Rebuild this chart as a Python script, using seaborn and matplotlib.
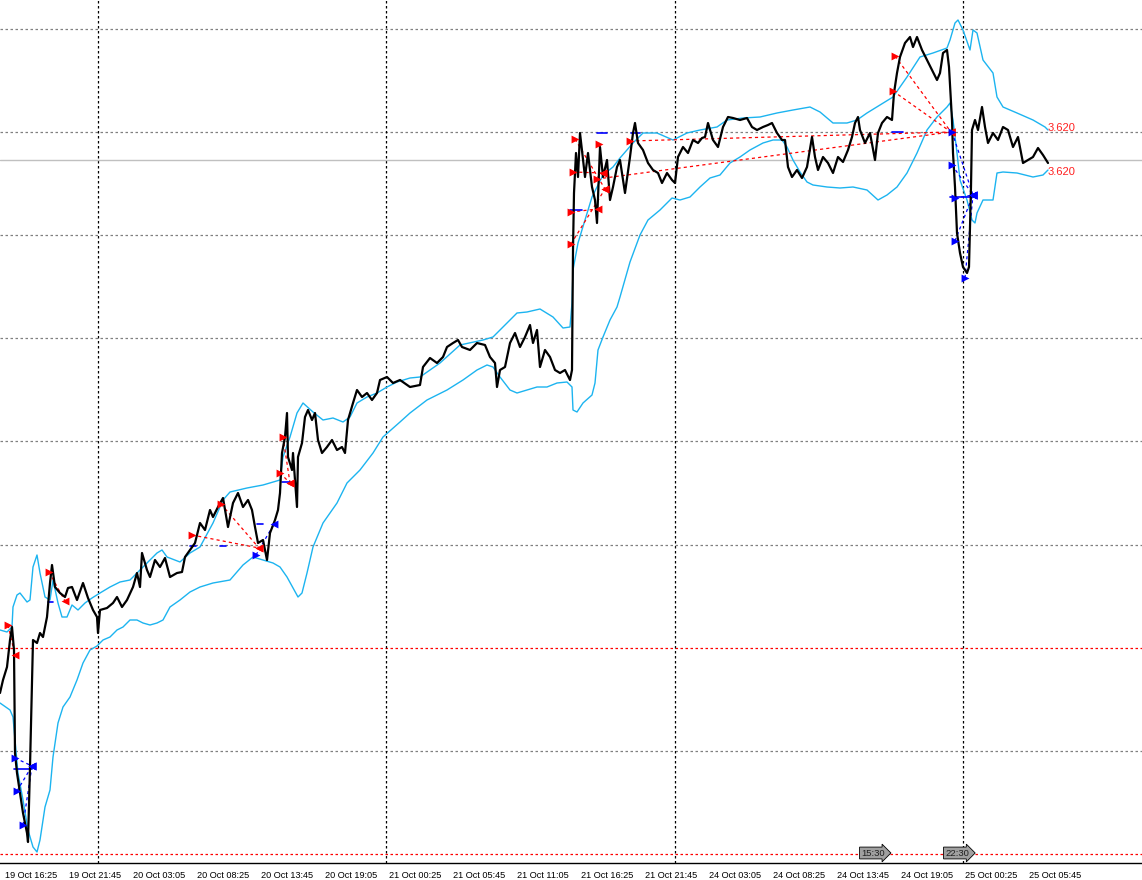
import matplotlib
matplotlib.use("Agg")
import matplotlib.pyplot as plt
import seaborn as sns
import pandas as pd

# prices are stored in points above 3.60000 (1 point = 0.00001)
# x values are M5 bar numbers counted from the left edge of the chart

close_bar = [0, 3, 7, 10, 12, 14, 15, 17, 20, 23, 27, 28, 30, 32, 33, 37, 40, 43, 47, 50,
             52, 55, 60, 65, 68, 72, 77, 83, 88, 93, 97, 98, 100, 107, 113, 117, 122, 127, 133, 137,
             140, 142, 147, 150, 155, 160, 165, 170, 177, 182, 185, 190, 195, 200, 205, 210, 213, 218, 223, 228,
             233, 238, 243, 248, 252, 255, 258, 263, 267, 270, 275, 278, 280, 282, 285, 287, 288, 292, 293, 297,
             298, 302, 305, 308, 312, 315, 318, 322, 327, 332, 337, 342, 345, 348, 353, 357, 362, 367, 372, 377,
             380, 387, 393, 400, 410, 420, 423, 430, 437, 443, 447, 453, 458, 462, 470, 477, 485, 490, 495, 497,
             500, 505, 510, 515, 520, 525, 530, 533, 537, 540, 545, 550, 555, 560, 565, 570, 572, 573, 574, 576,
             578, 580, 583, 585, 588, 592, 595, 597, 600, 603, 607, 610, 613, 617, 620, 625, 630, 633, 635, 638,
             643, 648, 653, 658, 662, 667, 672, 675, 678, 683, 688, 693, 698, 702, 705, 708, 713, 718, 723, 728,
             733, 740, 747, 752, 757, 763, 768, 772, 777, 782, 785, 788, 792, 797, 802, 807, 812, 815, 818, 823,
             828, 833, 838, 843, 848, 852, 855, 858, 860, 865, 870, 875, 878, 882, 887, 892, 894, 897, 900, 905,
             910, 913, 917, 922, 927, 932, 937, 940, 943, 947, 949, 952, 953, 955, 957, 960, 963, 967, 969, 971,
             972, 975, 978, 982, 985, 988, 993, 998, 1003, 1008, 1013, 1018, 1023, 1028, 1033, 1038, 1043, 1048]
close_pts = [1467, 1480, 1493, 1520, 1533, 1510, 1407, 1387, 1367, 1347, 1327, 1318, 1393, 1480, 1520, 1517, 1527, 1523, 1543, 1577,
             1595, 1573, 1567, 1563, 1572, 1573, 1560, 1577, 1562, 1550, 1543, 1527, 1550, 1552, 1557, 1563, 1553, 1560, 1573, 1587,
             1573, 1607, 1590, 1583, 1600, 1593, 1602, 1583, 1587, 1588, 1603, 1610, 1617, 1637, 1630, 1650, 1643, 1653, 1662, 1633,
             1657, 1667, 1653, 1660, 1650, 1633, 1617, 1620, 1600, 1627, 1640, 1650, 1667, 1707, 1723, 1747, 1703, 1690, 1707, 1653,
             1703, 1717, 1743, 1750, 1740, 1747, 1720, 1707, 1713, 1720, 1710, 1713, 1707, 1740, 1757, 1770, 1763, 1767, 1760, 1767,
             1780, 1783, 1777, 1780, 1773, 1775, 1793, 1802, 1797, 1803, 1813, 1817, 1820, 1813, 1810, 1817, 1815, 1803, 1797, 1773,
             1790, 1793, 1817, 1827, 1813, 1823, 1835, 1817, 1830, 1793, 1810, 1803, 1790, 1787, 1790, 1780, 1790, 1910, 1967, 2007,
             1983, 2027, 2000, 1983, 2007, 1973, 1960, 1937, 2013, 1983, 2000, 1960, 1973, 1993, 2000, 1967, 2003, 2027, 2037, 2017,
             2010, 1997, 1990, 1987, 1977, 1987, 1980, 1977, 2003, 2013, 2007, 2020, 2017, 2022, 2023, 2037, 2020, 2013, 2033, 2043,
             2042, 2040, 2042, 2033, 2030, 2033, 2035, 2037, 2027, 2020, 2020, 1993, 1983, 1990, 1982, 1993, 2023, 2003, 1990, 2003,
             1997, 1987, 2003, 1998, 2010, 2023, 2037, 2043, 2030, 2017, 2027, 2000, 2027, 2037, 2043, 2040, 2067, 2087, 2103, 2117,
             2123, 2113, 2123, 2110, 2100, 2090, 2080, 2087, 2107, 2110, 2093, 2040, 2007, 1973, 1927, 1907, 1893, 1887, 1893, 1973,
             2030, 2040, 2030, 2053, 2033, 2017, 2027, 2020, 2033, 2030, 2013, 2023, 1997, 2000, 2003, 2012, 2005, 1997]

upper_bar = [0, 7, 12, 13, 17, 20, 27, 30, 33, 37, 40, 45, 50, 53, 58, 62, 67, 72, 78, 85,
             92, 100, 110, 120, 130, 137, 147, 157, 162, 167, 180, 190, 200, 213, 223, 230, 247, 263, 280, 283,
             290, 297, 303, 313, 323, 333, 343, 350, 357, 367, 377, 387, 397, 410, 420, 440, 460, 483, 493, 507,
             517, 527, 540, 553, 563, 570, 572, 573, 578, 585, 592, 597, 603, 613, 620, 633, 643, 657, 673, 687,
             700, 717, 727, 743, 760, 777, 793, 810, 820, 833, 847, 857, 867, 880, 893, 907, 920, 933, 947, 950,
             955, 958, 963, 970, 973, 977, 983, 993, 997, 1003, 1017, 1033, 1045, 1048]
upper_pts = [1530, 1528, 1533, 1553, 1565, 1567, 1558, 1560, 1593, 1605, 1587, 1563, 1560, 1580, 1557, 1543, 1543, 1555, 1550, 1557,
             1562, 1567, 1573, 1578, 1580, 1587, 1597, 1607, 1610, 1603, 1598, 1607, 1613, 1637, 1660, 1668, 1672, 1675, 1680, 1703,
             1723, 1747, 1757, 1748, 1740, 1742, 1738, 1743, 1757, 1763, 1767, 1773, 1778, 1782, 1783, 1797, 1815, 1820, 1823, 1837,
             1847, 1848, 1851, 1843, 1832, 1833, 1857, 1890, 1917, 1940, 1963, 1973, 1985, 1993, 2002, 2017, 2027, 2027, 2020, 2027,
             2030, 2033, 2040, 2042, 2043, 2047, 2050, 2053, 2048, 2037, 2037, 2040, 2047, 2055, 2063, 2083, 2103, 2107, 2112, 2120,
             2137, 2140, 2130, 2110, 2130, 2127, 2100, 2087, 2063, 2053, 2047, 2040, 2033, 2030]

lower_bar = [0, 10, 13, 15, 18, 23, 28, 33, 37, 40, 45, 50, 53, 58, 63, 70, 77, 83, 90, 97,
             103, 110, 117, 123, 130, 137, 143, 150, 157, 163, 170, 180, 190, 200, 213, 230, 243, 253, 263, 273,
             280, 287, 293, 298, 302, 307, 313, 323, 337, 347, 360, 373, 383, 400, 410, 427, 447, 463, 477, 487,
             493, 500, 510, 517, 527, 537, 547, 557, 567, 572, 573, 577, 583, 592, 595, 598, 603, 610, 617, 620,
             630, 640, 648, 660, 672, 680, 690, 700, 710, 720, 730, 740, 750, 763, 773, 782, 787, 793, 800, 807,
             813, 827, 840, 853, 867, 878, 887, 897, 907, 917, 927, 937, 947, 950, 953, 957, 960, 967, 972, 975,
             977, 983, 993, 997, 1003, 1017, 1033, 1043, 1048]
lower_pts = [1457, 1450, 1443, 1420, 1387, 1360, 1330, 1313, 1308, 1320, 1353, 1370, 1403, 1437, 1453, 1463, 1480, 1497, 1510, 1514,
             1520, 1523, 1530, 1533, 1540, 1540, 1537, 1535, 1537, 1540, 1553, 1560, 1568, 1573, 1577, 1580, 1595, 1603, 1600, 1597,
             1593, 1583, 1572, 1563, 1567, 1587, 1613, 1637, 1657, 1677, 1690, 1707, 1723, 1738, 1747, 1760, 1770, 1780, 1790, 1795,
             1793, 1783, 1770, 1767, 1770, 1773, 1773, 1777, 1778, 1773, 1750, 1748, 1757, 1765, 1777, 1810, 1823, 1840, 1853, 1863,
             1898, 1925, 1940, 1950, 1962, 1960, 1963, 1973, 1982, 1985, 1997, 2003, 2010, 2017, 2020, 2020, 2013, 2000, 1988, 1978,
             1975, 1973, 1972, 1973, 1970, 1960, 1965, 1973, 1987, 2007, 2030, 2043, 2053, 2057, 2040, 2007, 1980, 1960, 1940, 1937,
             1947, 1960, 1960, 1987, 1988, 1987, 1983, 1985, 1990]

# trades: open bar, open price, close bar, close price
sell_open_bar = [8, 49, 192, 221, 283, 280, 575, 573, 571, 571, 599, 597, 630, 895, 893]
sell_open_pts = [1535, 1588, 1625, 1656, 1723, 1687, 2021, 1988, 1948, 1916, 2016, 1981, 2019, 2104, 2069]
sell_close_bar = [15, 65, 259, 259, 290, 290, 605, 603, 598, 605, 603, 951, 951, 951, 951]
sell_close_pts = [1505, 1559, 1612, 1612, 1677, 1677, 1971, 1987, 1951, 1971, 1987, 2028, 2028, 2028, 2028]

buy_open_bar = [15, 17, 23, 256, 952, 952, 955, 955, 965]
buy_open_pts = [1402, 1369, 1335, 1605, 2028, 1995, 1962, 1919, 1882]
buy_close_bar = [32, 32, 32, 274, 973, 973, 973, 973, 973]
buy_close_pts = [1394, 1394, 1394, 1636, 1965, 1965, 1965, 1965, 1965]

# short stop/target marks: start bar, end bar, price
level_x0 = [14, 48, 190, 220, 257, 282, 570, 597, 631, 892, 950]
level_x1 = [32, 53, 196, 226, 263, 290, 582, 607, 640, 903, 973]
level_pts = [1391, 1558, 1614, 1614, 1636, 1678, 1950, 2027, 2027, 2028, 1963]

grid_pts = [2131, 2028, 1925, 1822, 1719, 1615, 1409]
red_grid_pts = [1512, 1306]
day_sep_bar = [98, 386, 675, 963]
bid_pts = 2000

tick_bar = [5, 69, 133, 197, 261, 325, 389, 453, 517, 581, 645, 709, 773, 837, 901, 965, 1029]
tick_labels = ["19 Oct 16:25", "19 Oct 21:45", "20 Oct 03:05", "20 Oct 08:25", "20 Oct 13:45",
               "20 Oct 19:05", "21 Oct 00:25", "21 Oct 05:45", "21 Oct 11:05", "21 Oct 16:25",
               "21 Oct 21:45", "24 Oct 03:05", "24 Oct 08:25", "24 Oct 13:45", "24 Oct 19:05",
               "25 Oct 00:25", "25 Oct 05:45"]

sns.set_style("white")
plt.rcParams['font.family'] = ['Liberation Sans', 'DejaVu Sans']

fig = plt.figure(figsize=(11.42, 8.8), dpi=100)
ax = fig.add_axes([0, 17 / 880, 1, 863 / 880])

for g in grid_pts:
    ax.axhline(g, color='#808080', lw=0.9, ls=(0, (2, 2)), zorder=0)
for g in red_grid_pts:
    ax.axhline(g, color='#ff0000', lw=0.9, ls=(0, (2, 2)), zorder=0)
for d in day_sep_bar:
    ax.axvline(d, color='black', lw=0.9, ls=(0, (2, 2)), zorder=0)
ax.axhline(bid_pts, color='#c0c0c0', lw=1, zorder=0)

band_col = '#1cb4f0'
sns.lineplot(x=upper_bar, y=upper_pts, ax=ax, color=band_col, lw=1, sort=False, estimator=None)
sns.lineplot(x=lower_bar, y=lower_pts, ax=ax, color=band_col, lw=1, sort=False, estimator=None)

# trade connection lines
for i in range(len(sell_open_bar)):
    ax.plot([sell_open_bar[i], sell_close_bar[i]], [sell_open_pts[i], sell_close_pts[i]],
            color='#ff0000', lw=0.9, ls=(0, (2.5, 2.5)), zorder=2)
for i in range(len(buy_open_bar)):
    ax.plot([buy_open_bar[i], buy_close_bar[i]], [buy_open_pts[i], buy_close_pts[i]],
            color='#0000ff', lw=0.9, ls=(0, (2.5, 2.5)), zorder=2)
for i in range(len(level_x0)):
    ax.plot([level_x0[i], level_x1[i]], [level_pts[i], level_pts[i]], color='#0000ff', lw=1.2, zorder=2)

sns.lineplot(x=close_bar, y=close_pts, ax=ax, color='black', lw=1.6, sort=False, estimator=None, zorder=3)

sns.scatterplot(x=sell_open_bar, y=sell_open_pts, ax=ax, color='#ff0000', marker='>', s=32, linewidth=0, zorder=4)
sns.scatterplot(x=sell_close_bar, y=sell_close_pts, ax=ax, color='#ff0000', marker='<', s=32, linewidth=0, zorder=4)
sns.scatterplot(x=buy_open_bar, y=buy_open_pts, ax=ax, color='#0000ff', marker='>', s=32, linewidth=0, zorder=4)
sns.scatterplot(x=buy_close_bar, y=buy_close_pts, ax=ax, color='#0000ff', marker='<', s=32, linewidth=0, zorder=4)

# band value labels at the right end
ax.text(1048, upper_pts[-1] + 2, "3.620", color='#ff2020', fontsize=8, ha='left', va='center')
ax.text(1048, lower_pts[-1] - 2, "3.620", color='#ff2020', fontsize=8, ha='left', va='center')

# session time tags on the bottom
for xb, lab in [(861, "15:30"), (945, "22:30")]:
    ax.text(xb, 1307, lab, fontsize=6.8, color='#202020', ha='left', va='center',
            bbox=dict(boxstyle='rarrow,pad=0.15', fc='#a0a0a0', ec='black', lw=0.6), zorder=5)

ax.set_xlim(0, 1142)
ax.set_ylim(1297, 2160)
ax.set_xticks(tick_bar)
ax.set_xticklabels(tick_labels, ha='left', fontsize=6.6)
ax.set_yticks([])
ax.tick_params(axis='x', direction='out', length=4, width=0.8, color='black', labelcolor='black', pad=1.5)
ax.set_xlabel("")
ax.set_ylabel("")
for s in ['top', 'left', 'right']:
    ax.spines[s].set_visible(False)
ax.spines['bottom'].set_color('black')
ax.spines['bottom'].set_linewidth(1)

fig.savefig("out.png", dpi=100)
